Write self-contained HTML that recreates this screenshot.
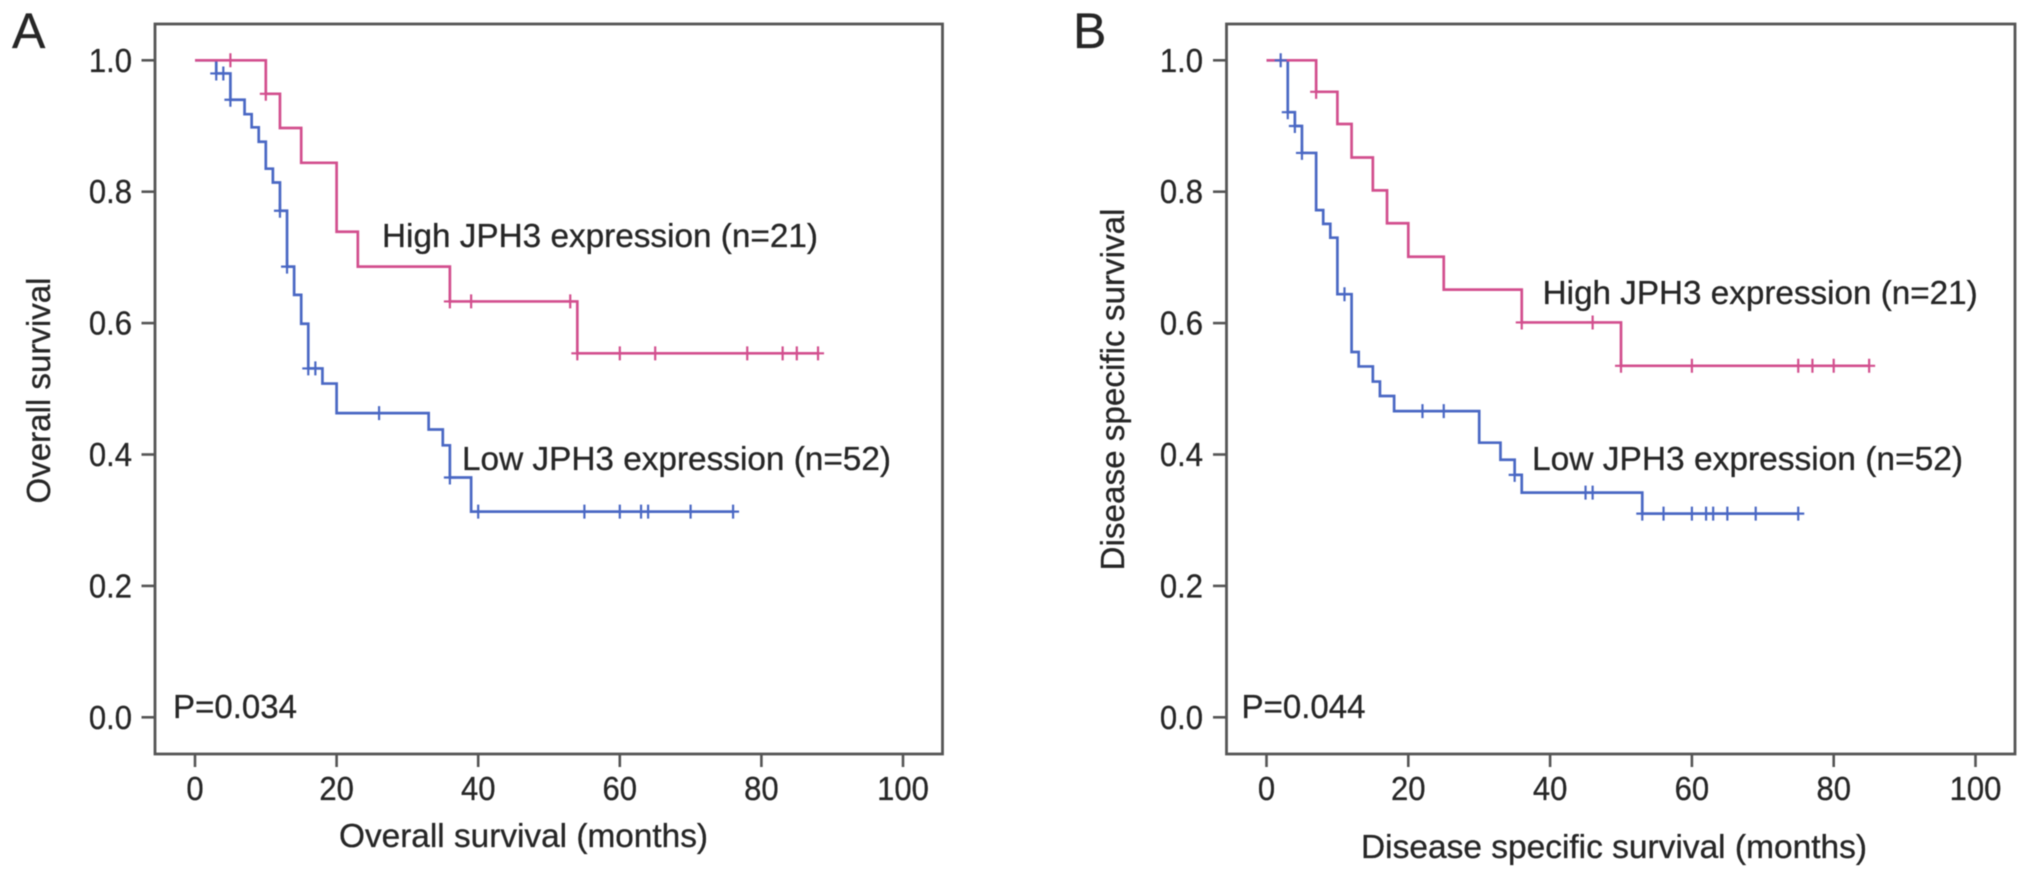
<!DOCTYPE html>
<html lang="en">
<head>
<meta charset="utf-8">
<title>JPH3 expression survival curves</title>
<style>
html,body{margin:0;padding:0;background:#fff;width:2032px;height:878px;overflow:hidden}
svg{display:block;filter:blur(.65px)}
text{font-family:"Liberation Sans",Arial,sans-serif;fill:#262626;stroke:#262626;stroke-width:.3px;font-size:33px}
</style>
</head>
<body>
<svg id="chart" xmlns="http://www.w3.org/2000/svg" width="2032" height="878" viewBox="0 0 2032 878">
  <rect x="0" y="0" width="2032" height="878" fill="#fff"></rect>
  <g id="panel-a">
    <text x="12" y="48" style="font-size:50px">A</text>
    <rect x="155" y="24" width="787.5" height="730" fill="none" stroke="#555" stroke-width="2.8"></rect>
    <text x="382" y="247" textLength="436" lengthAdjust="spacingAndGlyphs">High JPH3 expression (n=21)</text>
    <text x="462" y="470" textLength="429" lengthAdjust="spacingAndGlyphs">Low JPH3 expression (n=52)</text>
    <text x="173" y="718" textLength="124" lengthAdjust="spacingAndGlyphs">P=0.034</text>
    <text x="339" y="847" textLength="369" lengthAdjust="spacingAndGlyphs">Overall survival (months)</text>
    <text transform="translate(50 503.5) rotate(-90)" textLength="226" lengthAdjust="spacingAndGlyphs">Overall survival</text>
  </g>
  <g id="panel-b">
    <text x="1073" y="48" style="font-size:50px">B</text>
    <rect x="1226.5" y="24" width="788.5" height="730" fill="none" stroke="#555" stroke-width="2.8"></rect>
    <text x="1542.7" y="304" textLength="435" lengthAdjust="spacingAndGlyphs">High JPH3 expression (n=21)</text>
    <text x="1532" y="470" textLength="431" lengthAdjust="spacingAndGlyphs">Low JPH3 expression (n=52)</text>
    <text x="1241.5" y="718" textLength="124" lengthAdjust="spacingAndGlyphs">P=0.044</text>
    <text x="1361" y="858" textLength="506" lengthAdjust="spacingAndGlyphs">Disease specific survival (months)</text>
    <text transform="translate(1124 570.5) rotate(-90)" textLength="362" lengthAdjust="spacingAndGlyphs">Disease specific survival</text>
  </g>
</svg>
<script>
// Axis tick labels
var xTickLabels = [0, 20, 40, 60, 80, 100];
var yTickLabels = ["0.0", "0.2", "0.4", "0.6", "0.8", "1.0"];

// Panel A: overall survival
var aHighMonths = [10, 12, 15, 20, 23, 36, 54];
var aHighSurvival = [0.949, 0.897, 0.844, 0.739, 0.686, 0.633, 0.554];
var aHighCensored = [5, 10, 36, 39, 53, 54, 60, 65, 78, 83, 85, 88];
var aLowMonths = [3, 5, 7, 8, 9, 10, 11, 12, 13, 14, 15, 16, 18, 20, 33, 35, 36, 39];
var aLowSurvival = [0.98, 0.94, 0.918, 0.898, 0.876, 0.835, 0.814, 0.771, 0.686, 0.643, 0.599, 0.531, 0.508, 0.463, 0.438, 0.414, 0.365, 0.313];
var aLowCensored = [3, 4, 5, 12, 13, 16, 17, 26, 36, 40, 55, 60, 63, 64, 70, 76];

// Panel B: disease specific survival
var bHighMonths = [7, 10, 12, 15, 17, 20, 25, 36, 50];
var bHighSurvival = [0.952, 0.903, 0.852, 0.802, 0.752, 0.701, 0.651, 0.601, 0.535];
var bHighCensored = [7, 36, 46, 50, 60, 75, 77, 80, 85];
var bLowMonths = [3, 4, 5, 7, 8, 9, 10, 12, 13, 15, 16, 18, 30, 33, 35, 36, 53];
var bLowSurvival = [0.921, 0.9, 0.859, 0.772, 0.751, 0.73, 0.644, 0.556, 0.534, 0.511, 0.489, 0.466, 0.418, 0.392, 0.369, 0.342, 0.31];
var bLowCensored = [2, 3, 4, 5, 11, 22, 25, 35, 45, 46, 53, 56, 60, 62, 63, 65, 69, 75];

var NS = "http://www.w3.org/2000/svg";
var PINK = "#d24f8e";
var BLUE = "#4a68c4";

function make(parent, tag, attrs, name) {
  var el = document.createElementNS(NS, tag);
  for (var k in attrs) el.setAttribute(k, attrs[k]);
  
  
  parent.appendChild(el);
  return el;
}

function setTickText(label, content) {
  label.textContent = content;
  var natural = label.getComputedTextLength();
  label.setAttribute("textLength", natural * 0.94);
  label.setAttribute("lengthAdjust", "spacingAndGlyphs");
}

function survivalAt(month, months, survival) {
  var v = 1;
  for (var i = 0; i < months.length; i++) {
    if (months[i] <= month) v = survival[i];
  }
  return v;
}

function drawCurve(g, prefix, color, months, survival, censored, xs, ys) {
  var last = Math.max(months[months.length - 1], censored[censored.length - 1]);
  var d = "M" + xs(0) + " " + ys(1);
  for (var i = 0; i < months.length; i++) {
    d += "H" + xs(months[i]) + "V" + ys(survival[i]);
  }
  d += "H" + xs(last);
  make(g, "path", {d: d, fill: "none", stroke: color, "stroke-width": 2.7}, prefix + "-curve");
}

function drawCensors(g, prefix, color, months, survival, censored, xs, ys) {
  censored.forEach(function (m) {
    var x = xs(m), y = ys(survivalAt(m, months, survival));
    var d = "M" + (x - 6) + " " + y + "H" + (x + 6) + "M" + x + " " + (y - 7) + "V" + (y + 7);
    make(g, "path", {d: d, fill: "none", stroke: color, "stroke-width": 2.2}, prefix + "-censor-mark");
  });
}

function drawPanel(id, left, bottom, x0, xScale, labelRight, high, low) {
  var g = document.getElementById(id);
  var prefix = id;
  function xs(m) { return x0 + xScale * m; }
  function ys(v) { return 717.3 - 657 * v; }

  xTickLabels.forEach(function (t) {
    make(g, "line", {x1: xs(t), x2: xs(t), y1: bottom, y2: bottom + 13, stroke: "#555", "stroke-width": 2.6}, prefix + "-x-tick");
    var label = make(g, "text", {x: xs(t), y: 800, "text-anchor": "middle"}, prefix + "-x-tick-label");
    setTickText(label, String(t));
  });
  yTickLabels.forEach(function (t) {
    var y = ys(parseFloat(t));
    make(g, "line", {x1: left - 13.5, x2: left, y1: y, y2: y, stroke: "#555", "stroke-width": 2.6}, prefix + "-y-tick");
    var label = make(g, "text", {x: labelRight, y: y + 11.5, "text-anchor": "end"}, prefix + "-y-tick-label");
    setTickText(label, t);
  });

  drawCurve(g, prefix + "-low", BLUE, low[0], low[1], low[2], xs, ys);
  drawCurve(g, prefix + "-high", PINK, high[0], high[1], high[2], xs, ys);
  drawCensors(g, prefix + "-low", BLUE, low[0], low[1], low[2], xs, ys);
  drawCensors(g, prefix + "-high", PINK, high[0], high[1], high[2], xs, ys);
}

drawPanel("panel-a", 155, 754, 195, 7.08, 132,
  [aHighMonths, aHighSurvival, aHighCensored],
  [aLowMonths, aLowSurvival, aLowCensored]);
drawPanel("panel-b", 1226.5, 754, 1266.5, 7.09, 1203,
  [bHighMonths, bHighSurvival, bHighCensored],
  [bLowMonths, bLowSurvival, bLowCensored]);
</script>
</body>
</html>
